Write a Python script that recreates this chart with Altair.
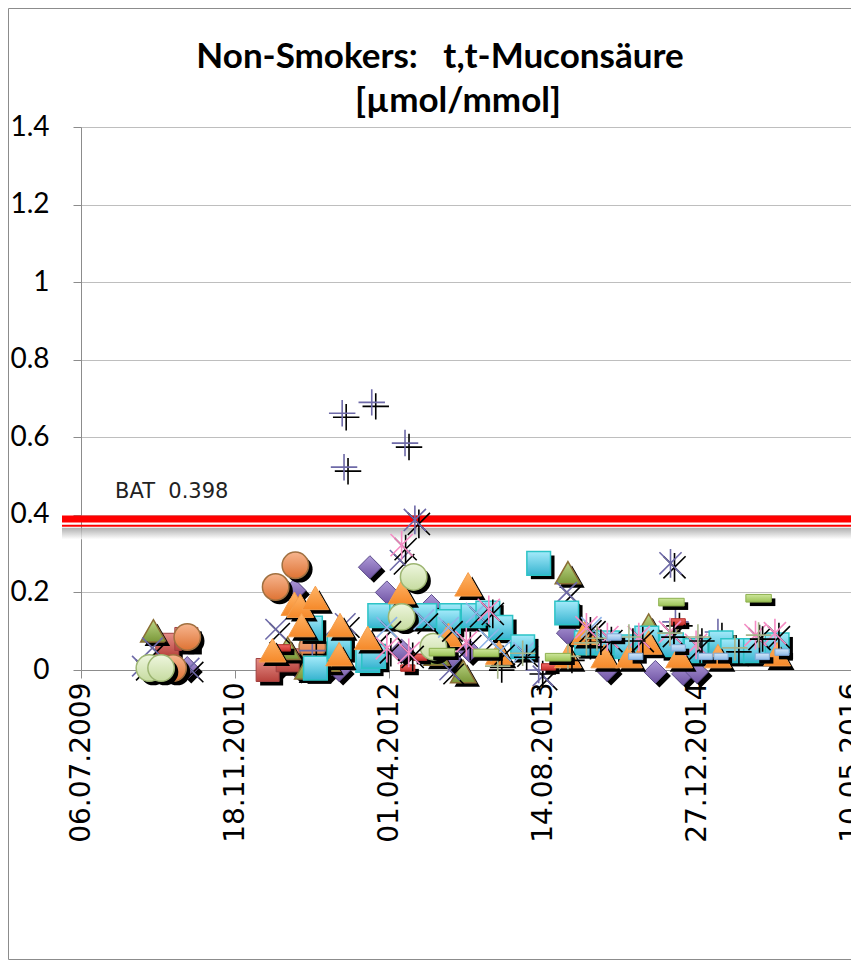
import altair as alt
import pandas as pd

# ---------------- data ----------------
x_ticks = [(2009, 7, 6), (2010, 11, 18), (2012, 4, 1), (2013, 8, 14), (2014, 12, 27), (2016, 5, 10)]
y_ticks = [0, 0.2, 0.4, 0.6, 0.8, 1.0, 1.2, 1.4]
BAT_LABEL = "BAT\u00a0 0.398"
BAT_LINE = 0.389
BAT_LINE_2 = 0.372

diamond_dates = ["2010/02/23", "2010/06/16", "2011/03/26", "2011/06/09", "2011/05/30", "2011/09/13",
                 "2011/10/22", "2012/01/30", "2012/03/25", "2012/08/17", "2012/05/12", "2012/10/15",
                 "2012/12/17", "2013/11/03", "2014/03/10", "2014/08/14", "2014/11/12", "2014/12/27"]
diamond_vals = [0.005, 0.005, 0.005, 0.005, 0.205, 0.005, 0.0, 0.265, 0.2, 0.165, 0.05, 0.03,
                0.05, 0.095, 0.0, -0.005, -0.01, -0.005]

redsq_dates = ["2010/04/12", "2010/06/13", "2011/03/04", "2011/05/08"]
redsq_vals = [0.065, 0.08, 0.0, 0.025]

olive_tri_dates = ["2010/02/26", "2011/05/08", "2011/09/13", "2011/07/11", "2012/09/03", "2012/11/28",
                   "2013/11/03", "2014/07/23", "2014/10/17"]
olive_tri_vals = [0.1, 0.055, 0.025, 0.005, 0.04, -0.005, 0.25, 0.115, 0.085]

purple_x_dates = ["2010/02/23", "2010/01/21", "2010/06/22", "2011/03/30", "2011/08/28", "2011/11/11",
                  "2012/05/07", "2013/10/30", "2013/08/14", "2012/10/15"]
purple_x_vals = [0.057, 0.01, 0.005, 0.105, 0.08, 0.12, 0.283, 0.2, -0.015, 0.0]

purple_ast_dates = ["2012/06/24", "2014/10/02"]
purple_ast_vals = [0.387, 0.275]

orange_circ_dates = ["2010/06/16", "2010/05/01", "2011/03/30", "2011/06/02", "2011/07/27"]
orange_circ_vals = [0.085, 0.005, 0.214, 0.27, 0.06]

purple_plus_dates = ["2011/11/01", "2012/02/05", "2011/11/07", "2012/05/23", "2011/07/27", "2013/07/31",
                     "2014/10/18", "2015/03/05"]
purple_plus_vals = [0.662, 0.69, 0.523, 0.585, 0.05, 0.0, 0.124, 0.098]

red_dash_dates = ["2011/04/24", "2012/06/01", "2012/07/10", "2013/09/01", "2014/10/27"]
red_dash_vals = [0.057, 0.005, 0.033, 0.008, 0.124]

cyan_sq_dates = ["2011/07/21", "2011/08/06", "2011/10/22", "2012/01/23", "2012/03/02", "2012/05/12",
                 "2012/07/26", "2012/10/21", "2012/12/30", "2012/02/11", "2013/02/16", "2013/03/30",
                 "2013/06/09", "2013/07/31", "2013/10/30", "2014/01/02", "2014/03/11", "2014/05/10",
                 "2014/07/17", "2014/10/05", "2014/12/24", "2015/03/15", "2015/04/22", "2015/07/05",
                 "2015/09/13", "2012/10/11"]
cyan_sq_vals = [0.108, 0.005, 0.06, 0.025, 0.14, 0.14, 0.14, 0.14, 0.14, 0.035, 0.147, 0.11,
                0.06, 0.275, 0.147, 0.07, 0.07, 0.06, 0.082, 0.065, 0.05, 0.07, 0.05, 0.05,
                0.065, 0.125]

orange_tri_dates = ["2011/05/30", "2011/06/18", "2011/08/06", "2011/06/22", "2011/10/25", "2011/03/20",
                    "2011/10/22", "2012/01/23", "2012/05/12", "2012/12/14", "2012/10/11", "2013/03/24",
                    "2013/11/03", "2013/12/27", "2014/03/01", "2014/05/20", "2014/07/23", "2014/10/30",
                    "2015/03/05", "2015/09/13"]
orange_tri_vals = [0.17, 0.165, 0.185, 0.115, 0.115, 0.05, 0.04, 0.082, 0.2, 0.22, 0.09, 0.044,
                   0.035, 0.095, 0.035, 0.035, 0.07, 0.035, 0.035, 0.04]

lgreen_circ_dates = ["2010/02/13", "2010/03/23", "2012/06/20", "2012/05/12", "2012/08/23"]
lgreen_circ_vals = [0.005, 0.005, 0.24, 0.137, 0.06]

lblue_x_dates = ["2012/10/11", "2013/02/19", "2013/03/30", "2013/06/12", "2012/07/23", "2013/01/09",
                 "2012/03/25", "2014/01/18"]
lblue_x_vals = [0.11, 0.08, 0.05, 0.045, 0.13, 0.147, 0.11, 0.11]

pink_ast_dates = ["2012/05/12", "2012/03/25", "2012/06/04", "2012/12/08", "2013/02/19", "2014/01/02",
                  "2014/03/11", "2014/06/21", "2014/09/30", "2014/12/24", "2015/07/05", "2015/09/06"]
pink_ast_vals = [0.322, 0.056, 0.044, 0.072, 0.155, 0.11, 0.085, 0.085, 0.098, 0.065, 0.09, 0.095]

olive_plus_dates = ["2013/03/20", "2013/06/09", "2013/11/03", "2014/01/02", "2014/02/05", "2014/05/20",
                    "2014/09/30", "2014/12/30", "2015/04/29", "2015/07/15"]
olive_plus_vals = [0.01, 0.043, 0.035, 0.07, 0.082, 0.085, 0.095, 0.085, 0.057, 0.09]

lgreen_dash_dates = ["2014/10/05", "2015/07/15", "2013/10/02", "2012/09/20", "2013/02/10"]
lgreen_dash_vals = [0.175, 0.185, 0.033, 0.046, 0.044]

lblue_dash_dates = ["2014/04/02", "2014/06/11", "2014/10/27", "2015/01/23", "2015/03/15", "2015/07/27",
                    "2015/09/29"]
lblue_dash_vals = [0.085, 0.035, 0.057, 0.035, 0.035, 0.035, 0.046]

# ---------------- styling ----------------
TRI = "M0,-0.9L1,0.85L-1,0.85Z"
XSH = "M-1,-1L1,1M-1,1L1,-1"
PLUS = "M-1,0L1,0M0,-1L0,1"
AST = "M-0.85,-0.85L0.85,0.85M-0.85,0.85L0.85,-0.85M0,-1.1L0,1.1"
DASH = "M-1,-0.3L1,-0.3L1,0.3L-1,0.3Z"
SDASH = "M-1,-0.45L1,-0.45L1,0.45L-1,0.45Z"


def grad(top, bottom):
    return alt.LinearGradient(
        gradient="linear",
        stops=[alt.GradientStop(color=top, offset=0), alt.GradientStop(color=bottom, offset=1)],
        x1=0, x2=0, y1=0, y2=1,
    )


series = [
    (diamond_dates, diamond_vals, "diamond", 530, grad("#AE9AD8", "#6F53A3"), "#5E4E8C", 1, True),
    (redsq_dates, redsq_vals, "square", 530, grad("#E58E88", "#B8433D"), "#A04040", 1, True),
    (olive_tri_dates, olive_tri_vals, TRI, 650, grad("#BCD586", "#7A9838"), "#8A6E34", 1.5, True),
    (purple_x_dates, purple_x_vals, XSH, 420, None, "#6E6AA8", 1.6, False),
    (purple_ast_dates, purple_ast_vals, AST, 680, None, "#6E6AA8", 1.6, False),
    (orange_circ_dates, orange_circ_vals, "circle", 700, grad("#F7B58F", "#DE7334"), "#A07040", 1.5, True),
    (purple_plus_dates, purple_plus_vals, PLUS, 700, None, "#6E6AA8", 1.6, False),
    (red_dash_dates, red_dash_vals, SDASH, 200, grad("#F06A66", "#C8302B"), "#B02A26", 1, True),
    (cyan_sq_dates, cyan_sq_vals, "square", 560, grad("#A4EAFA", "#37B4D0"), "#2DC3C6", 1.5, True),
    (orange_tri_dates, orange_tri_vals, TRI, 720, grad("#FFB466", "#F5892A"), "#F59E4C", 1, True),
    (lgreen_circ_dates, lgreen_circ_vals, "circle", 700, grad("#EEF6DE", "#C6DBA0"), "#9DB572", 1.5, True),
    (lblue_x_dates, lblue_x_vals, XSH, 420, None, "#8FB4E8", 1.6, False),
    (pink_ast_dates, pink_ast_vals, AST, 680, None, "#F58CC4", 1.6, False),
    (olive_plus_dates, olive_plus_vals, PLUS, 650, None, "#A6B48A", 1.6, False),
    (lgreen_dash_dates, lgreen_dash_vals, DASH, 650, grad("#CDE69B", "#9BC256"), "#8DB04E", 1, True),
    (lblue_dash_dates, lblue_dash_vals, SDASH, 200, grad("#D3E6F8", "#8EBBE8"), "#7EA8D8", 1, True),
]

W, H = 770, 543

x_axis = alt.Axis(
    values=[alt.DateTime(year=y, month=m, date=d) for (y, m, d) in x_ticks],
    format="%d.%m.%Y", labelAngle=270, labelFont="DejaVu Sans", labelFontSize=28,
    labelColor="black", tickSize=8, tickColor="#8C8C8C", domainColor="#8C8C8C",
    grid=False, labelPadding=4, labelOverlap=False, labelFlush=False, labelBound=False, title=None,
)
y_axis = alt.Axis(
    values=y_ticks, format="~g", labelFont="Lato", labelFontSize=28, labelColor="black",
    tickSize=8, tickColor="#8C8C8C", domainColor="#8C8C8C", grid=True, gridColor="#BEBEBE",
    labelPadding=24, title=None,
)
x_enc = alt.X("date:T", axis=x_axis,
              scale=alt.Scale(domain=[alt.DateTime(year=2009, month=7, date=6),
                                      alt.DateTime(year=2016, month=5, date=10)], nice=False))
y_enc = alt.Y("value:Q", axis=y_axis, scale=alt.Scale(domain=[0, 1.4], nice=False, zero=False))

one = pd.DataFrame({"k": [0]})
layers = []

# chart-area frame
layers.append(alt.Chart(one).mark_rect(fillOpacity=0, stroke="#8C8C8C", strokeWidth=1).encode(
    x=alt.value(-72.5), x2=alt.value(W + 40), y=alt.value(-118.5), y2=alt.value(H + 289.5)))

# base layer carrying the axes
base_df = pd.DataFrame({"date": ["2009/07/06"], "value": [0.0]})
layers.append(alt.Chart(base_df).mark_point(opacity=0).encode(x=x_enc, y=y_enc))

# BAT line with its shadow
layers.append(alt.Chart(one).mark_rect(fill=grad("#9A9A9A", "#FFFFFF"), opacity=0.8).encode(
    x=alt.value(-19), x2=alt.value(W + 40), y=alt.datum(BAT_LINE_2 - 0.005), y2=alt.datum(BAT_LINE_2 - 0.035)))
layers.append(alt.Chart(one).mark_rule(color="#FF0000", strokeWidth=7).encode(
    x=alt.value(-19), x2=alt.value(W + 40), y=alt.datum(BAT_LINE)))
layers.append(alt.Chart(one).mark_rule(color="#FF0000", strokeWidth=2).encode(
    x=alt.value(-19), x2=alt.value(W + 40), y=alt.datum(BAT_LINE_2)))
layers.append(alt.Chart(pd.DataFrame({"t": [BAT_LABEL]})).mark_text(
    font="DejaVu Sans", fontSize=21, color="#222222", align="left", baseline="alphabetic").encode(
    x=alt.value(34), y=alt.value(371), text="t:N"))

for dates, vals, shape, size, fill, stroke, sw, filled in series:
    df = pd.DataFrame({"date": dates, "value": vals})
    if filled:
        sh = alt.Chart(df).mark_point(shape=shape, size=size, filled=True, fill="black",
                                      strokeWidth=0, opacity=1, xOffset=4, yOffset=4)
        mk = alt.Chart(df).mark_point(shape=shape, size=size, filled=True, fill=fill,
                                      stroke=stroke, strokeWidth=sw, opacity=1)
    else:
        sh = alt.Chart(df).mark_point(shape=shape, size=size, filled=False, stroke="black",
                                      strokeWidth=sw, opacity=1, xOffset=4, yOffset=4)
        mk = alt.Chart(df).mark_point(shape=shape, size=size, filled=False, stroke=stroke,
                                      strokeWidth=sw, opacity=1)
    layers.append(sh.encode(x=x_enc, y=y_enc))
    layers.append(mk.encode(x=x_enc, y=y_enc))

# title (two lines)
title_df = pd.DataFrame({"t": ["Non-Smokers:\u00a0\u00a0 t,t-Muconsäure", "[µmol/mmol]"],
                         "xx": [359, 377], "yy": [-59, -15]})
layers.append(alt.Chart(title_df).mark_text(
    font="Lato", fontSize=35, fontWeight="bold", color="black", align="center",
    baseline="alphabetic").encode(x=alt.X("xx:Q", scale=None), y=alt.Y("yy:Q", scale=None), text="t:N"))

chart = alt.layer(*layers).properties(
    width=W, height=H,
    padding={"left": 73, "top": 119, "right": 0, "bottom": 290},
    autosize=alt.AutoSizeParams(type="none"),
).configure_view(stroke=None).configure(background="white")

chart.save("out.html", embed_options={"renderer": "svg", "actions": False})
